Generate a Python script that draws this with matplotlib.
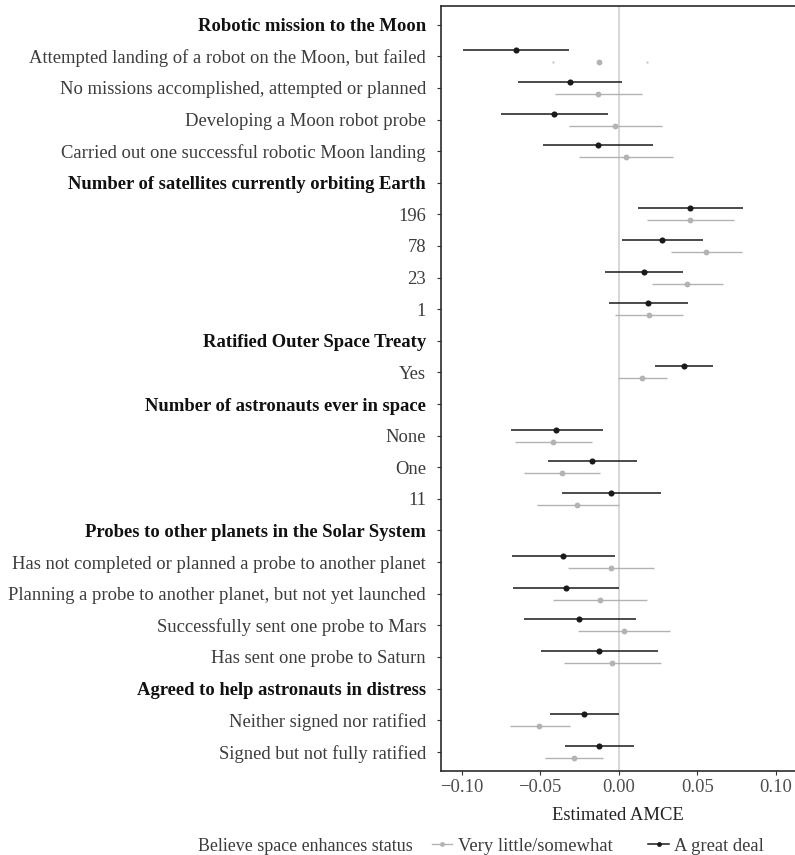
import matplotlib
matplotlib.use("Agg")
import matplotlib.pyplot as plt
from matplotlib.lines import Line2D

plt.rcParams["font.family"] = ["Liberation Serif", "DejaVu Serif"]

# rows from top to bottom; headers have no estimates
labels = [
    "Robotic mission to the Moon",
    "Attempted landing of a robot on the Moon, but failed",
    "No missions accomplished, attempted or planned",
    "Developing a Moon robot probe",
    "Carried out one successful robotic Moon landing",
    "Number of satellites currently orbiting Earth",
    "196",
    "78",
    "23",
    "1",
    "Ratified Outer Space Treaty",
    "Yes",
    "Number of astronauts ever in space",
    "None",
    "One",
    "11",
    "Probes to other planets in the Solar System",
    "Has not completed or planned a probe to another planet",
    "Planning a probe to another planet, but not yet launched",
    "Successfully sent one probe to Mars",
    "Has sent one probe to Saturn",
    "Agreed to help astronauts in distress",
    "Neither signed nor ratified",
    "Signed but not fully ratified",
]
is_header = [
    True, False, False, False, False,
    True, False, False, False, False,
    True, False,
    True, False, False, False,
    True, False, False, False, False,
    True, False, False,
]

# "A great deal" (black) estimates and 95% CIs; None for header rows
great_est = [None, -0.0656, -0.0312, -0.0412, -0.0134,
             None, 0.0456, 0.0278, 0.0159, 0.0189,
             None, 0.0414,
             None, -0.0397, -0.0170, -0.0051,
             None, -0.0355, -0.0338, -0.0251, -0.0125,
             None, -0.0219, -0.0125]
great_lo = [None, -0.0990, -0.0639, -0.0750, -0.0480,
            None, 0.0125, 0.0023, -0.0085, -0.0060,
            None, 0.0233,
            None, -0.0686, -0.0448, -0.0363,
            None, -0.0678, -0.0671, -0.0601, -0.0493,
            None, -0.0436, -0.0342]
great_hi = [None, -0.0318, 0.0019, -0.0066, 0.0220,
            None, 0.0790, 0.0537, 0.0410, 0.0443,
            None, 0.0600,
            None, -0.0098, 0.0115, 0.0269,
            None, -0.0026, 0.0004, 0.0108, 0.0248,
            None, 0.0004, 0.0099]

# "Very little/somewhat" (grey) estimates and 95% CIs
little_est = [None, -0.0123, -0.0132, -0.0024, 0.0045,
              None, 0.0456, 0.0556, 0.0433, 0.0191,
              None, 0.0150,
              None, -0.0420, -0.0363, -0.0264,
              None, -0.0051, -0.0121, 0.0032, -0.0041,
              None, -0.0506, -0.0287]
little_lo = [None, -0.0416, -0.0408, -0.0317, -0.0251,
             None, 0.0182, 0.0335, 0.0214, -0.0022,
             None, -0.0003,
             None, -0.0662, -0.0601, -0.0518,
             None, -0.0321, -0.0416, -0.0261, -0.0346,
             None, -0.0694, -0.0468]
little_hi = [None, 0.0178, 0.0150, 0.0278, 0.0344,
             None, 0.0734, 0.0785, 0.0662, 0.0410,
             None, 0.0310,
             None, -0.0170, -0.0119, 0.0000,
             None, 0.0227, 0.0182, 0.0329, 0.0267,
             None, -0.0308, -0.0098]

xticks = [-0.10, -0.05, 0.00, 0.05, 0.10]

C_GREAT = "#1a1a1a"
C_LITTLE = "#b3b3b3"
C_TEXT = "#3c3c3c"
FS = 13.4
dodge = 0.19

fig = plt.figure(figsize=(7.95, 8.55), dpi=100)
ax = fig.add_axes([0.5543, 0.0986, 0.4457, 0.8947])

ax.axvline(0, color="#cccccc", linewidth=1.1, zorder=0)

ypos = list(range(1, len(labels) + 1))
for y, e, lo, hi in zip(ypos, little_est, little_lo, little_hi):
    if e is None:
        continue
    yy = y + dodge
    # first row's grey interval barely shows in the original
    if y == 2:
        ax.plot([lo, hi], [yy, yy], ls="none", marker="o", ms=0.8, color="#cfcfcf")
    else:
        ax.plot([lo, hi], [yy, yy], color=C_LITTLE, linewidth=1.0, solid_capstyle="butt")
    ax.plot(e, yy, "o", color=C_LITTLE, ms=4.2, mec="none")

for y, e, lo, hi in zip(ypos, great_est, great_lo, great_hi):
    if e is None:
        continue
    yy = y - dodge
    ax.plot([lo, hi], [yy, yy], color=C_GREAT, linewidth=1.1, solid_capstyle="butt")
    ax.plot(e, yy, "o", color=C_GREAT, ms=4.4, mec="none")

ax.set_xlim(-0.1134, 0.1123)
ax.set_ylim(len(labels) + 0.6, 0.4)
ax.set_yticks(ypos)
ax.set_yticklabels(labels, fontsize=FS)
for lab, head in zip(ax.get_yticklabels(), is_header):
    if head:
        lab.set_fontweight("bold")
        lab.set_color("#111111")
    else:
        lab.set_color(C_TEXT)

ax.set_xticks(xticks)
ax.set_xticklabels([f"{t:.2f}".replace("-", "\u2212") for t in xticks],
                   fontsize=FS, color="#4d4d4d")
ax.tick_params(axis="y", length=3, width=0.8, color="#333333", pad=7.5)
ax.tick_params(axis="x", length=3, width=0.8, color="#333333", pad=3)
ax.set_xlabel("Estimated AMCE", fontsize=FS, color="#222222", labelpad=8)

for side in ["left", "bottom", "top"]:
    ax.spines[side].set_color("#2b2b2b")
    ax.spines[side].set_linewidth(1.2)
ax.spines["right"].set_visible(False)

handles = [
    Line2D([], [], color=C_LITTLE, marker="o", ms=3.5, mec="none", lw=1.0),
    Line2D([], [], color=C_GREAT, marker="o", ms=3.5, mec="none", lw=1.1),
]
fig.text(0.519, 0.010, "Believe space enhances status", fontsize=12.9,
         color=C_TEXT, ha="right", va="center")
fig.legend(handles, ["Very little/somewhat", "A great deal"], loc="center left",
           bbox_to_anchor=(0.543, 0.010), ncol=2, frameon=False, fontsize=FS,
           handlelength=1.1, handletextpad=0.3, columnspacing=1.93,
           labelcolor=C_TEXT, borderpad=0, borderaxespad=0)

fig.savefig("out.png", dpi=100, facecolor="white")
